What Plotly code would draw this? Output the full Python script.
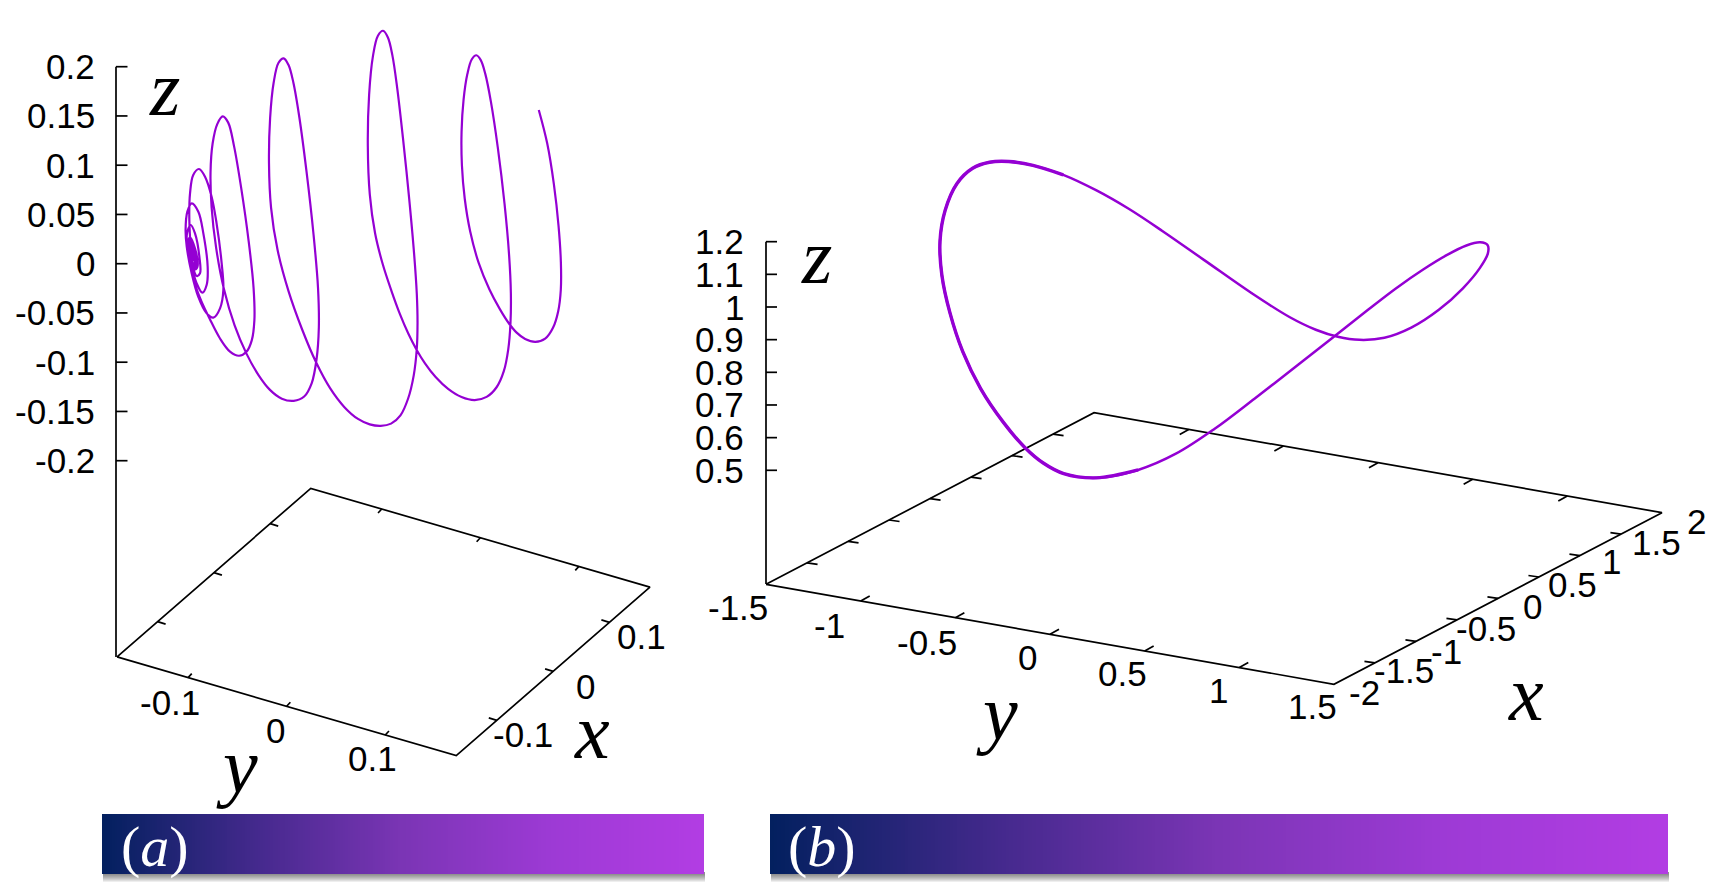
import numpy as np
import plotly.graph_objects as go

W, H = 1718, 889
VIOLET = "#9400D3"
TICK_FONT = "Liberation Sans"
MATH_FONT = "Liberation Serif"
TICK_SIZE = 35
MATH_SIZE = 78

# ---------- data: panel (a) ----------
a_x_ticks = [-0.1, 0, 0.1]
a_y_ticks = [-0.1, 0, 0.1]
a_z_ticks = [0.2, 0.15, 0.1, 0.05, 0, -0.05, -0.1, -0.15, -0.2]
a_x_labels = ["-0.1", "0", "0.1"]
a_y_labels = ["-0.1", "0", "0.1"]
a_z_labels = ["0.2", "0.15", "0.1", "0.05", "0", "-0.05", "-0.1", "-0.15", "-0.2"]

# projected trajectory of panel (a), outer end to the centre
a_curve_h = [1408, 1430, 1447, 1460, 1466, 1465, 1459, 1446, 1424, 1400, 1372, 1346, 1333, 1307, 1279, 1250, 1228, 1215, 1207, 1206, 1211, 1222, 1233, 1245,
             1257, 1268, 1282, 1300, 1320, 1331, 1334.5, 1334, 1328, 1317, 1298, 1272, 1240, 1206.5, 1171.6, 1137, 1110.7, 1089, 1067, 1045, 1023.6,
             1000, 980, 966, 961, 964, 975, 988, 1001,
             1014, 1026, 1037, 1052, 1070, 1083, 1089, 1090.6, 1089, 1082, 1067, 1045, 1023.6, 995, 962.6, 941, 897, 862, 826, 793, 752,
             725, 708, 703, 706, 715, 728, 742,
             754, 766, 782, 800, 820, 832, 833.6, 826, 814.5, 797, 766.6, 736, 705.6, 675, 644.6, 614, 583.7,
             565, 553, 550, 555, 568, 583,
             597, 610, 630, 650, 664.7, 664, 657.7, 644.6, 624.6, 601, 575, 548.8, 522.7, 511.4, 503, 497, 495, 496.6, 505, 520,
             535.8, 553, 566, 579.3, 583.7, 575, 557.5, 540, 518, 500.9, 488, 485, 489.6, 501,
             518.3, 531.4, 542.7, 540, 528.8, 514, 496.6, 488, 489.6, 498.3,
             509.6, 521, 522.7, 514, 501, 489.6, 496.6,
             513, 516, 510, 495, 490, 497, 511, 514, 508, 494, 491, 498, 509, 512, 506, 496, 494, 499, 507, 510, 505, 498, 497, 501, 505, 507, 504, 500, 503]
a_curve_v = [330, 430, 550, 680, 790, 870, 930, 985, 1017, 1027, 1017, 992, 975, 925, 870, 790, 690, 600, 490, 400, 300, 215, 180, 167,
             180, 225, 300, 430, 620, 780, 870, 970, 1050, 1110, 1165, 1190, 1200, 1192, 1167, 1130, 1090, 1048, 1000, 945, 870,
             790, 700, 590, 440, 280, 160, 110, 95,
             110, 170, 260, 400, 600, 780, 870, 970, 1048, 1120, 1200, 1248, 1270, 1277, 1270, 1260, 1220, 1165, 1085, 995, 870,
             750, 620, 500, 350, 240, 190, 177,
             195, 250, 345, 500, 720, 870, 970, 1085, 1150, 1188, 1203, 1195, 1170, 1125, 1058, 980, 870,
             740, 620, 520, 430, 370, 351,
             370, 430, 560, 730, 870, 960, 1020, 1055, 1067, 1055, 1020, 955, 890, 860, 810, 720, 640, 580, 525, 507,
             530, 590, 670, 790, 870, 925, 953, 940, 890, 820, 740, 690, 635, 610,
             635, 700, 800, 855, 878, 850, 780, 720, 695, 675,
             700, 770, 820, 828, 790, 740, 712,
             760, 800, 808, 765, 730, 716, 758, 795, 803, 765, 735, 722, 760, 790, 797, 765, 740, 728, 760, 785, 790, 765, 745, 735, 760, 778, 782, 760, 768]

# ---------- data: panel (b) ----------
b_x_ticks = [-2, -1.5, -1, -0.5, 0, 0.5, 1, 1.5, 2]
b_y_ticks = [-1.5, -1, -0.5, 0, 0.5, 1, 1.5]
b_z_ticks = [1.2, 1.1, 1.0, 0.9, 0.8, 0.7, 0.6, 0.5]
b_x_labels = ["-2", "-1.5", "-1", "-0.5", "0", "0.5", "1", "1.5", "2"]
b_y_labels = ["-1.5", "-1", "-0.5", "0", "0.5", "1", "1.5"]
b_z_labels = ["1.2", "1.1", "1", "0.9", "0.8", "0.7", "0.6", "0.5"]

b_curve_h = [1488, 1487.5, 1480, 1466.6, 1447, 1423, 1395.6, 1368, 1336.5, 1297, 1257.7, 1210, 1179, 1139, 1095, 1063, 1043, 1026.7,
             1003, 980, 963, 950, 941.7, 940, 945, 956.7, 973, 990, 1008, 1033, 1063, 1096.7, 1130, 1161, 1203, 1254, 1289,
             1317, 1336.5, 1360, 1384, 1411, 1439, 1463, 1480]
b_curve_v = [253, 245, 242.7, 245, 255, 270, 288, 310, 335, 365, 396.7, 431.7, 451.7, 470, 479.3, 473, 461.7, 449,
             423, 386.7, 353, 313, 273, 243, 210, 183, 168, 162.7, 161.7, 165, 175, 190, 210, 230, 259, 295, 317,
             330, 336, 340, 338, 328, 310, 288, 268]
# the left arc of the orbit is traced more heavily in the picture
B_HEAVY = slice(13, 31)

# quadratic 5-point filter that removes hand-reading jitter while keeping loop tips
SG = np.array([-3, 12, 17, 12, -3]) / 35.0
def steady(v):
    v = np.asarray(v, float)
    out = v.copy()
    out[2:-2] = np.convolve(v, SG, mode="valid")
    return out
def steady_loop(v):
    v = np.asarray(v, float)
    w = np.r_[v[-2:], v, v[:2]]
    out = np.convolve(w, SG, mode="valid")
    return np.r_[out, out[:1]]

# ---------- projection of the 3D boxes onto the page ----------
def make_proj(origin, ex, ey):
    def p(x, y):
        return origin[0] + x * ex[0] + y * ey[0], origin[1] + x * ex[1] + y * ey[1]
    return p

a_ex, a_ey = (563.0, -490.0), (986.0, 287.0)
a_o = (383.5, 622.0)
a_proj = make_proj(a_o, a_ex, a_ey)
a_xr, a_yr = (-0.172, 0.172), (-0.172, 0.172)
a_z = lambda z: 263.7 - 985.0 * z
a_zx = 116

b_ex, b_ey = (82.0, -42.9), (189.3, 33.3)
b_o = (1214.0, 548.5)
b_proj = make_proj(b_o, b_ex, b_ey)
b_xr, b_yr = (-2, 2), (-1.5, 1.5)
b_z = lambda z: 470.3 - 326.6 * (z - 0.5)
b_zx = 766

def seg(lst, p0, p1):
    lst[0] += [p0[0], p1[0], None]
    lst[1] += [p0[1], p1[1], None]

def frame(proj, xr, yr, zfn, zx, xt, yt, zt, zbottom, tx, ty, zlen):
    s = [[], []]
    lf = proj(xr[0], yr[0])
    bk = proj(xr[1], yr[0])
    rg = proj(xr[1], yr[1])
    fr = proj(xr[0], yr[1])
    s[0] += [lf[0], bk[0], rg[0], fr[0], lf[0], None]
    s[1] += [lf[1], bk[1], rg[1], fr[1], lf[1], None]
    seg(s, (zx, zfn(zt[0])), (zx, zbottom))
    for z in zt:
        seg(s, (zx, zfn(z)), (zx + zlen, zfn(z)))
    for y in yt:
        if yr[0] < y < yr[1]:
            a = proj(xr[0], y)
            seg(s, a, (a[0] + ty[0], a[1] + ty[1]))
            a = proj(xr[1], y)
            seg(s, a, (a[0] - ty[0], a[1] - ty[1]))
    for x in xt:
        if xr[0] < x < xr[1]:
            a = proj(x, yr[0])
            seg(s, a, (a[0] + tx[0], a[1] + tx[1]))
            a = proj(x, yr[1])
            seg(s, a, (a[0] - tx[0], a[1] - tx[1]))
    return s

fig = go.Figure()

# banners
STOPS = [[0, "#03205f"], [0.25, "#43298c"], [0.5, "#7b35b5"], [0.75, "#9d3ad5"], [1, "#b23de3"]]
banners = [(102, 704), (770, 1668)]
BTOP, BBOT = 814, 874
shapes = []
for x0, x1 in banners:
    for i in range(1, 9):
        shapes.append(dict(type="rect", xref="x", yref="y", x0=x0 + 1, x1=x1 + 1, y0=BBOT - 2, y1=BBOT + i,
                           fillcolor="black", opacity=0.065, line_width=0, layer="below"))
    n = 240
    fig.add_trace(go.Heatmap(z=[list(np.linspace(0, 1, n))], x0=x0 + (x1 - x0) / n / 2, dx=(x1 - x0) / n,
                             y0=(BTOP + BBOT) / 2, dy=BBOT - BTOP, colorscale=STOPS, showscale=False,
                             zmin=0, zmax=1, hoverinfo="skip"))

# frames
fa = frame(a_proj, a_xr, a_yr, a_z, a_zx, a_x_ticks, a_y_ticks, a_z_ticks, 657, (8, 2.5), (3.7, -4), 11.5)
fb = frame(b_proj, b_xr, b_yr, b_z, b_zx, b_x_ticks, b_y_ticks, b_z_ticks, 584, (10.5, 1.5), (9, -5), 11)
for f in (fa, fb):
    fig.add_trace(go.Scatter(x=f[0], y=f[1], mode="lines", line=dict(color="black", width=1.7), hoverinfo="skip"))

# curves: outer turns are filtered, the small inner turns are kept as read
K = a_curve_v.index(507)
a_h = np.r_[steady(steady(a_curve_h[:K])), a_curve_h[K:]]
a_v = np.r_[steady(steady(a_curve_v[:K])), a_curve_v[K:]]
b_h = steady_loop(b_curve_h)
b_v = steady_loop(b_curve_v)
fig.add_trace(go.Scatter(x=a_h, y=a_v, xaxis="x2", yaxis="y2", mode="lines",
                         line=dict(color=VIOLET, width=2.2, shape="spline", smoothing=1.0)))
fig.add_trace(go.Scatter(x=b_h, y=b_v, mode="lines",
                         line=dict(color=VIOLET, width=2.5, shape="spline", smoothing=1.0)))
fig.add_trace(go.Scatter(x=b_h[B_HEAVY], y=b_v[B_HEAVY], mode="lines",
                         line=dict(color=VIOLET, width=3.4, shape="spline", smoothing=1.0)))

ann = []
def label(text, x, y, anchor="center", size=TICK_SIZE, family=TICK_FONT, color="black"):
    ann.append(dict(text=text, x=x, y=y, xref="x", yref="y", xanchor=anchor, yanchor="middle", showarrow=False,
                    borderpad=0, font=dict(size=size, family=family, color=color)))

for t, z in zip(a_z_labels, a_z_ticks):
    label(t, 96, a_z(z), "right")
for t, z in zip(b_z_labels, b_z_ticks):
    label(t, 745, b_z(z), "right")

a_y_off = [(-18, 24.7), (-11, 24.3), (-13, 24)]
for t, v, o in zip(a_y_labels, a_y_ticks, a_y_off):
    p = a_proj(a_xr[0], v)
    label(t, p[0] + o[0], p[1] + o[1])
a_x_off = [(26, 14), (32, 15), (32, 14)]
for t, v, o in zip(a_x_labels, a_x_ticks, a_x_off):
    p = a_proj(v, a_yr[1])
    label(t, p[0] + o[0], p[1] + o[1])
b_y_off = [(-28, 23), (-31, 24), (-28, 24.7), (-23, 23), (-22.6, 23), (-20.6, 23), (-21.6, 22.7)]
for t, v, o in zip(b_y_labels, b_y_ticks, b_y_off):
    p = b_proj(b_xr[0], v)
    label(t, p[0] + o[0], p[1] + o[1])
b_x_off = [(30.5, 8), (29, 8), (31, 9.7), (29, 8.8), (35, 7.7), (33.7, 7.5), (31.5, 6), (35.8, 8), (34.3, 8.7)]
for t, v, o in zip(b_x_labels, b_x_ticks, b_x_off):
    p = b_proj(v, b_yr[1])
    label(t, p[0] + o[0], p[1] + o[1])

for t, x, y in [("z", 164, 88), ("x", 592, 731), ("y", 237, 765), ("z", 816.7, 256), ("x", 1526, 693), ("y", 996.5, 712)]:
    label(f"<i>{t}</i>", x, y, size=MATH_SIZE, family=MATH_FONT)
label("(<i>a</i>)", 155, 846, size=58, family=MATH_FONT, color="white")
label("(<i>b</i>)", 822, 846, size=58, family=MATH_FONT, color="white")

hidden = dict(visible=False, fixedrange=True)
fig.update_layout(
    width=W, height=H, margin=dict(l=0, r=0, t=0, b=0), showlegend=False,
    paper_bgcolor="white", plot_bgcolor="white", shapes=shapes, annotations=ann,
    xaxis=dict(range=[0, W], domain=[0, 1], **hidden),
    yaxis=dict(range=[H, 0], domain=[0, 1], **hidden),
    xaxis2=dict(range=[0, W * 1568 / 600], overlaying="x", **hidden),
    yaxis2=dict(range=[H * 3, 0], overlaying="y", **hidden),
)
fig.write_html("out.html", post_script="document.body.style.margin='0';", config={"displayModeBar": False})
